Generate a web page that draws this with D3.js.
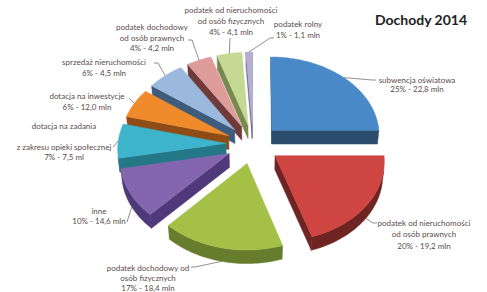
<!DOCTYPE html>
<html>
<head>
<meta charset="utf-8">
<script src="https://cdn.jsdelivr.net/npm/d3@7"></script>
<style>
  body { margin: 0; background: #fff; }
  svg { display: block; font-family: Lato, "Open Sans", sans-serif; }
</style>
</head>
<body>
<svg id="chart" width="487" height="292"></svg>
<script>
// dane
const title = "Dochody 2014"
const categories = [
    ["subwencja oświatowa"],
    ["podatek od nieruchomości", "od osób prawnych"],
    ["podatek dochodowy od", "osób fizycznych"],
    ["inne"],
    ["dotacja na zadania", "z zakresu opieki społecznej"],
    ["dotacja na inwestycje"],
    ["sprzedaż nieruchomości"],
    ["podatek dochodowy", "od osób prawnych"],
    ["podatek od nieruchomości", "od osób fizycznych"],
    ["podatek rolny"]
]
const percents = [25, 20, 17, 10, 7, 6, 6, 4, 4, 1]
const amounts = ["22,8 mln", "19,2 mln", "18,4 mln", "14,6 mln", "7,5 ml", "12,0 mln", "4,5 mln", "4,2 mln", "4,1 mln", "1,1 mln"]

const topColors = ["#4a89c8", "#cf4541", "#a4c047", "#8466af", "#3db3cc", "#f08b2b", "#9bb8dd", "#dd9c9a", "#c5d995", "#b7aed3"]
const sideColors = ["#294b6c", "#6e2422", "#677d2e", "#50397a", "#247787", "#8e4c16", "#3f5c7c", "#6e3b3a", "#78884f", "#6f6891"]

// rozmieszczenie etykiet: środek x, linie bazowe, koniec tekstu dla linii odniesienia
const labelLayout = [
    { x: 417, ys: [83, 92], tip: [376, 80] },
    { x: 424, ys: [226, 237, 249], tip: [377, 223] },
    { x: 148, ys: [271, 281, 291], tip: [191, 267] },
    { x: 99, ys: [214, 224], tip: [127, 222] },
    { x: 64, ys: [129, 150, 160], tip: [113, 147] },
    { x: 87, ys: [99, 110], tip: [129, 98] },
    { x: 104, ys: [65, 76], tip: [154, 63] },
    { x: 152, ys: [30, 41, 51], tip: [188, 40] },
    { x: 231, ys: [13, 24, 35], tip: [230, 38] },
    { x: 298, ys: [27, 38], tip: [274, 38] }
]

const svg = d3.select("#chart")

// rzut perspektywiczny
const cx = 253, cy = 144
const D = 11.66, f = 1260
const sa = 0.731, ca = 0.682
const explode = 0.25
const depth = 0.19

function project(X, Y, Z) {
    const dist = D + Z * ca - Y * sa
    return [cx + f * X / dist, cy - f * (Z * sa + Y * ca) / dist]
}

const pie = d3.pie().sort(null).value(d => d)
const arcs = pie(percents).map((a, i) => {
    const mid = (a.startAngle + a.endAngle) / 2
    const ax = explode * Math.sin(mid), az = explode * Math.cos(mid)
    const cxm = ax + 0.5 * Math.sin(mid), czm = az + 0.5 * Math.cos(mid)
    return { ...a, i, mid, ax, az, far: D + czm * ca }
})

const line = d3.line()
const camY = D * sa, camZ = -D * ca

function rim(a, t, Y) {
    return project(a.ax + Math.sin(t), Y, a.az + Math.cos(t))
}

const order = arcs.slice().sort((p, q) => q.far - p.far)
const gPie = svg.append("g")

order.forEach(a => {
    const g = gPie.append("g")
    const n = Math.max(8, Math.ceil((a.endAngle - a.startAngle) * 40))
    const ts = d3.range(n + 1).map(k => a.startAngle + (a.endAngle - a.startAngle) * k / n)

    // boczne ściany radialne
    const faces = [
        { t: a.startAngle, nx: -Math.cos(a.startAngle), nz: Math.sin(a.startAngle) },
        { t: a.endAngle, nx: Math.cos(a.endAngle), nz: -Math.sin(a.endAngle) }
    ]
    faces.forEach(fc => {
        const dot = fc.nx * (-a.ax) + fc.nz * (camZ - a.az)
        if (dot <= 0) return
        const pts = [
            project(a.ax, 0, a.az), rim(a, fc.t, 0),
            rim(a, fc.t, -depth), project(a.ax, -depth, a.az)
        ]
        g.append("path")
            .attr("d", line(pts) + "Z")
            .attr("fill", sideColors[a.i])
            .attr("stroke", sideColors[a.i])
            .attr("stroke-width", 0.5)
    })

    // ściana zewnętrzna
    const vis = t => -(Math.sin(t) * a.ax + Math.cos(t) * a.az) - 1 - D * ca * Math.cos(t) > 0
    let run = []
    const runs = []
    ts.forEach(t => {
        if (vis(t)) run.push(t)
        else if (run.length) { runs.push(run); run = [] }
    })
    if (run.length) runs.push(run)
    runs.filter(r => r.length > 1).forEach(r => {
        const pts = r.map(t => rim(a, t, 0)).concat(r.slice().reverse().map(t => rim(a, t, -depth)))
        g.append("path")
            .attr("d", line(pts) + "Z")
            .attr("fill", sideColors[a.i])
            .attr("stroke", sideColors[a.i])
            .attr("stroke-width", 0.5)
    })

    // wierzch
    const top = [project(a.ax, 0, a.az)].concat(ts.map(t => rim(a, t, 0)))
    g.append("path")
        .attr("d", line(top) + "Z")
        .attr("fill", topColors[a.i])
        .attr("stroke", topColors[a.i])
        .attr("stroke-width", 0.5)
})

// linie odniesienia i etykiety
const gLab = svg.append("g")
arcs.forEach(a => {
    const L = labelLayout[a.i]
    const front = -(Math.sin(a.mid) * a.ax + Math.cos(a.mid) * a.az) - 1 - D * ca * Math.cos(a.mid) > 0
    const anchor = rim(a, a.mid, front ? -depth : 0)
    const dx = anchor[0] - L.tip[0]
    const elbow = Math.abs(dx) > 10 ? [L.tip[0] + Math.sign(dx) * 4, L.tip[1]] : L.tip
    gLab.append("path")
        .attr("d", line([L.tip, elbow, anchor]))
        .attr("fill", "none")
        .attr("stroke", "#7d6f6f")
        .attr("stroke-width", 0.8)

    const lines = categories[a.i].concat([`${percents[a.i]}% - ${amounts[a.i]}`])
    gLab.selectAll(null)
        .data(lines)
        .enter()
        .append("text")
        .attr("x", L.x)
        .attr("y", (d, k) => L.ys[k])
        .attr("text-anchor", "middle")
        .attr("font-size", "8px")
        .attr("fill", "#5a4b4b")
        .text(d => d)
})

svg.append("text")
    .attr("x", 421)
    .attr("y", 25)
    .attr("text-anchor", "middle")
    .attr("font-size", "14px")
    .attr("font-weight", "bold")
    .attr("fill", "#222")
    .text(title)
</script>
</body>
</html>
